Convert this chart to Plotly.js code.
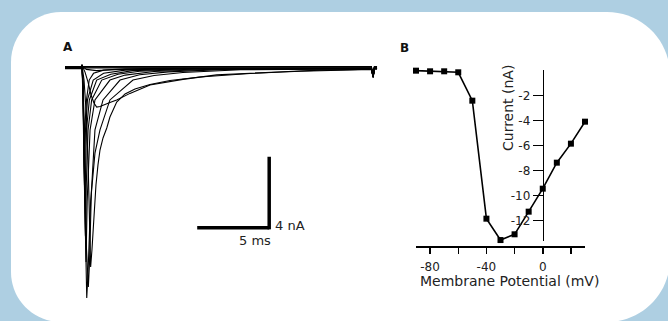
<!DOCTYPE html>
<html>
<head>
<meta charset="utf-8">
<script src="https://cdn.plot.ly/plotly-3.0.1.min.js"></script>
<style>
  html, body { margin: 0; padding: 0; background: #aecfe2; }
  #chart { width: 668px; height: 321px; }
</style>
</head>
<body>
<div id="chart"></div>
<script>
// ---------- Panel B: current-voltage relation ----------
const stepVoltages = [-90, -80, -70, -60, -50, -40, -30, -20, -10, 0, 10, 20, 30];          // mV
const peakCurrents = [0.0, -0.05, -0.05, -0.13, -2.40, -11.84, -13.55, -13.09, -11.28, -9.44, -7.36, -5.84, -4.08]; // nA
const ivXTickVals = [-80, -40, 0];
const ivXTickText = ['-80', '-40', '0'];
const ivYTickVals = [-2, -4, -6, -8, -10, -12];
const ivYTickText = ['-2', '-4', '-6', '-8', '-10', '-12'];

// ---------- Panel A: current traces (time in ms, current in nA) ----------
const t_m90 = [-1.18, -0.05, 0, 0.05, 20.1, 20.22, 20.3, 20.49];
const i_m90 = [0.08, 0.08, 0.2, 0.08, 0.08, -0.45, 0.08, 0.08];
const t_m80 = [-1.18, -0.05, 0, 0.05, 20.1, 20.22, 20.3, 20.49];
const i_m80 = [0.04, 0.04, 0.18, 0.04, 0.04, -0.48, 0.04, 0.04];
const t_m70 = [-1.18, -0.05, 0, 0.05, 20.1, 20.22, 20.3, 20.49];
const i_m70 = [0.0, 0.0, 0.15, 0.0, 0.0, -0.5, 0.0, 0.0];
const t_m60 = [-1.18, -0.05, 0, 0.3, 1.0, 2.0, 5.0, 20.1, 20.22, 20.3, 20.49];
const i_m60 = [-0.04, -0.04, 0.12, -0.08, -0.15, -0.1, -0.05, -0.04, -0.5, -0.04, -0.04];
const t_m50 = [-1.18, -0.05, 0, 0.21, 0.42, 0.63, 0.83, 1.02, 1.25, 1.48, 1.94, 2.41, 3.33, 4.72, 7.01, 9.35, 11.67, 13.96, 16.53, 19.77, 20.1, 20.22, 20.3, 20.49];
const i_m50 = [0, 0, 0.15, -0.23, -0.79, -1.52, -1.97, -2.20, -2.17, -2.08, -1.94, -1.80, -1.43, -0.96, -0.64, -0.39, -0.28, -0.21, -0.12, -0.07, -0.07, -0.55, -0.05, -0.05];
const t_m40 = [-1.18, -0.05, 0, 0.14, 0.28, 0.42, 0.52, 0.60, 0.69, 0.83, 0.97, 1.11, 1.25, 1.46, 1.72, 1.94, 2.41, 2.99, 3.68, 4.72, 6.11, 8.19, 11.67, 15.14, 20.0, 20.1, 20.22, 20.3, 20.49];
const i_m40 = [0, 0, 0.15, -0.68, -2.37, -5.18, -8.56, -11.21, -10.25, -8.28, -6.59, -5.46, -4.62, -3.94, -3.38, -2.76, -1.92, -1.46, -1.18, -0.93, -0.70, -0.51, -0.31, -0.18, -0.08, -0.08, -0.55, -0.05, -0.05];
const t_m30 = [-1.18, -0.05, 0, 0.07, 0.14, 0.24, 0.33, 0.42, 0.60, 0.90, 1.25, 1.94, 3.54, 5.0, 7.0, 11.0, 20.1, 20.22, 20.3, 20.49];
const i_m30 = [0, 0, 0.15, -1.8, -5.5, -10.5, -12.96, -11.5, -7.5, -4.8, -3.49, -1.80, -0.68, -0.42, -0.25, -0.10, -0.04, -0.5, 0, 0];
const t_m20 = [-1.18, -0.05, 0, 0.10, 0.20, 0.30, 0.44, 0.52, 0.65, 0.90, 1.46, 2.64, 4.0, 6.0, 10.0, 20.1, 20.22, 20.3, 20.49];
const i_m20 = [0, 0, 0.15, -1.5, -5.5, -10.0, -12.34, -11.0, -7.0, -3.49, -1.80, -0.68, -0.38, -0.22, -0.08, -0.03, -0.5, 0, 0];
const t_m10 = [-1.18, -0.05, 0, 0.07, 0.16, 0.28, 0.36, 0.56, 0.90, 1.94, 3.0, 5.0, 9.0, 20.1, 20.22, 20.3, 20.49];
const i_m10 = [0, 0, 0.15, -1.2, -6.0, -10.93, -7.5, -3.49, -1.80, -0.68, -0.40, -0.20, -0.07, -0.03, -0.5, 0, 0];
const t_p0 = [-1.18, -0.05, 0, 0.07, 0.15, 0.24, 0.30, 0.42, 0.67, 1.37, 2.5, 4.0, 8.0, 20.1, 20.22, 20.3, 20.49];
const i_p0 = [0, 0, 0.15, -1.3, -5.5, -9.46, -6.5, -3.49, -1.80, -0.68, -0.35, -0.18, -0.06, -0.03, -0.5, 0, 0];
const t_p10 = [-1.18, -0.05, 0, 0.07, 0.14, 0.21, 0.31, 0.51, 1.02, 2.0, 3.5, 7.0, 20.1, 20.22, 20.3, 20.49];
const i_p10 = [0, 0, 0.15, -1.2, -4.5, -7.32, -3.49, -1.80, -0.68, -0.35, -0.15, -0.05, -0.02, -0.5, 0, 0];
const t_p20 = [-1.18, -0.05, 0, 0.07, 0.13, 0.18, 0.24, 0.38, 0.78, 1.5, 3.0, 6.0, 20.1, 20.22, 20.3, 20.49];
const i_p20 = [0, 0, 0.15, -1.0, -3.8, -5.80, -3.49, -1.80, -0.68, -0.30, -0.12, -0.04, -0.02, -0.5, 0, 0];
const t_p30 = [-1.18, -0.05, 0, 0.07, 0.12, 0.16, 0.19, 0.31, 0.50, 0.80, 1.5, 3.0, 6.0, 20.1, 20.22, 20.3, 20.49];
const i_p30 = [0, 0, 0.15, -0.9, -2.8, -4.06, -3.49, -1.80, -0.68, -0.30, -0.12, -0.05, -0.02, -0.02, -0.5, 0, 0];

const traceTimes = [t_m90, t_m80, t_m70, t_m60, t_m50, t_m40, t_m30, t_m20, t_m10, t_p0, t_p10, t_p20, t_p30];
const traceCurrents = [i_m90, i_m80, i_m70, i_m60, i_m50, i_m40, i_m30, i_m20, i_m10, i_p0, i_p10, i_p20, i_p30];

// scale bar sizes (data units)
const scaleTime = 5;     // ms
const scaleCurrent = 4;  // nA

// ---------- layout helpers (pixel -> paper) ----------
const W = 668, H = 321;
const px = x => x / W;
const py = y => 1 - y / H;
const FONT = 'DejaVu Sans, Verdana, sans-serif';

// rounded white panel path
function panelPath() {
  const k = 0.5523;
  const L = 11, T = 12, R = 670, B = 322, rl = 50, rr = 63;
  const pts = [
    ['M', [L + rl, T]],
    ['L', [R - rr, T]],
    ['C', [R - rr + rr * k, T], [R, T + rr - rr * k], [R, T + rr]],
    ['L', [R, B - rr]],
    ['C', [R, B - rr + rr * k], [R - rr + rr * k, B], [R - rr, B]],
    ['L', [L + rl, B]],
    ['C', [L + rl - rl * k, B], [L, B - rl + rl * k], [L, B - rl]],
    ['L', [L, T + rl]],
    ['C', [L, T + rl - rl * k], [L + rl - rl * k, T], [L + rl, T]]
  ];
  return pts.map(p => p[0] + ' ' + p.slice(1).map(q => px(q[0]).toFixed(5) + ',' + py(q[1]).toFixed(5)).join(' ')).join(' ') + ' Z';
}

const data = [];
for (let k = 0; k < traceTimes.length; k++) {
  data.push({
    x: traceTimes[k], y: traceCurrents[k],
    xaxis: 'x', yaxis: 'y',
    type: 'scatter', mode: 'lines',
    line: { color: '#000', width: 1.1 },
    hoverinfo: 'skip', showlegend: false
  });
}
data.push({
  x: stepVoltages, y: peakCurrents,
  xaxis: 'x2', yaxis: 'y2',
  type: 'scatter', mode: 'lines+markers',
  line: { color: '#000', width: 1.6 },
  marker: { symbol: 'square', size: 6, color: '#000' },
  cliponaxis: false,
  showlegend: false
});

// scale bar corner position in panel A data coordinates
const sbT = 13, sbI = -9;

const layout = {
  width: W, height: H,
  margin: { l: 0, r: 0, t: 0, b: 0, pad: 0 },
  paper_bgcolor: '#aecfe2',
  plot_bgcolor: 'rgba(0,0,0,0)',
  showlegend: false,
  font: { family: FONT, color: '#222', size: 12 },
  xaxis: {
    domain: [px(60), px(380)], range: [(60 - 82) / 14.4, (380 - 82) / 14.4],
    visible: false, fixedrange: true
  },
  yaxis: {
    domain: [py(310), py(60)], range: [-(310 - 68) / 17.75, -(60 - 68) / 17.75],
    visible: false, fixedrange: true
  },
  xaxis2: {
    domain: [px(416), px(585)], range: [-90, 30],
    anchor: 'free', position: py(246),
    showline: true, linecolor: '#000', linewidth: 1.5,
    ticks: 'outside', ticklen: 6, tickwidth: 1.5, tickcolor: '#000',
    tickmode: 'array', tickvals: ivXTickVals, ticktext: ivXTickText,
    ticklabelstandoff: 3,
    minor: { tick0: -80, dtick: 20, ticks: 'outside', ticklen: 6, tickwidth: 1.5, tickcolor: '#000' },
    showgrid: false, zeroline: false,
    tickfont: { family: FONT, size: 12, color: '#222' },
    fixedrange: true
  },
  yaxis2: {
    domain: [py(70.67 + 13.6 * 12.5), py(70.67 - 0.08 * 12.5)], range: [-13.6, 0.08],
    anchor: 'free', position: px(542.7),
    showline: true, linecolor: '#000', linewidth: 1.5,
    ticks: 'outside', ticklen: 10, tickwidth: 1.5, tickcolor: '#000',
    tickmode: 'array', tickvals: ivYTickVals, ticktext: ivYTickText,
    showgrid: false, zeroline: false,
    tickfont: { family: FONT, size: 12, color: '#222' },
    fixedrange: true
  },
  shapes: [
    { type: 'path', xref: 'paper', yref: 'paper', path: panelPath(),
      fillcolor: '#ffffff', line: { width: 0 }, layer: 'below' },
    { type: 'line', xref: 'x', yref: 'y', x0: sbT - scaleTime, x1: sbT, y0: sbI, y1: sbI,
      line: { color: '#000', width: 3.5 } },
    { type: 'line', xref: 'x', yref: 'y', x0: sbT, x1: sbT, y0: sbI - 0.09, y1: sbI + scaleCurrent,
      line: { color: '#000', width: 3.5 } }
  ],
  annotations: [
    { xref: 'paper', yref: 'paper', x: px(67.5), y: py(47.5), text: '<b>A</b>', showarrow: false,
      xanchor: 'center', yanchor: 'middle',
      font: { family: FONT, size: 12, color: '#111' } },
    { xref: 'paper', yref: 'paper', x: px(404), y: py(48), text: '<b>B</b>', showarrow: false,
      xanchor: 'center', yanchor: 'middle',
      font: { family: FONT, size: 12, color: '#111' } },
    { xref: 'x', yref: 'y', x: sbT, y: sbI, text: scaleCurrent + ' nA', showarrow: false,
      xanchor: 'left', yanchor: 'middle', xshift: 4, yshift: 2,
      font: { family: FONT, size: 13, color: '#222' } },
    { xref: 'x', yref: 'y', x: sbT, y: sbI, text: scaleTime + ' ms', showarrow: false,
      xanchor: 'right', yanchor: 'middle', xshift: 4, yshift: -12.5,
      font: { family: FONT, size: 13, color: '#222' } },
    { xref: 'paper', yref: 'paper', x: px(508), y: py(108), text: 'Current (nA)', showarrow: false,
      textangle: -90, xanchor: 'center', yanchor: 'middle',
      font: { family: FONT, size: 14, color: '#222' } },
    { xref: 'paper', yref: 'paper', x: px(509), y: py(281), text: 'Membrane Potential (mV)', showarrow: false,
      xanchor: 'center', yanchor: 'middle',
      font: { family: FONT, size: 14, color: '#222' } }
  ]
};

Plotly.newPlot('chart', data, layout, { staticPlot: true, displayModeBar: false });
</script>
</body>
</html>
